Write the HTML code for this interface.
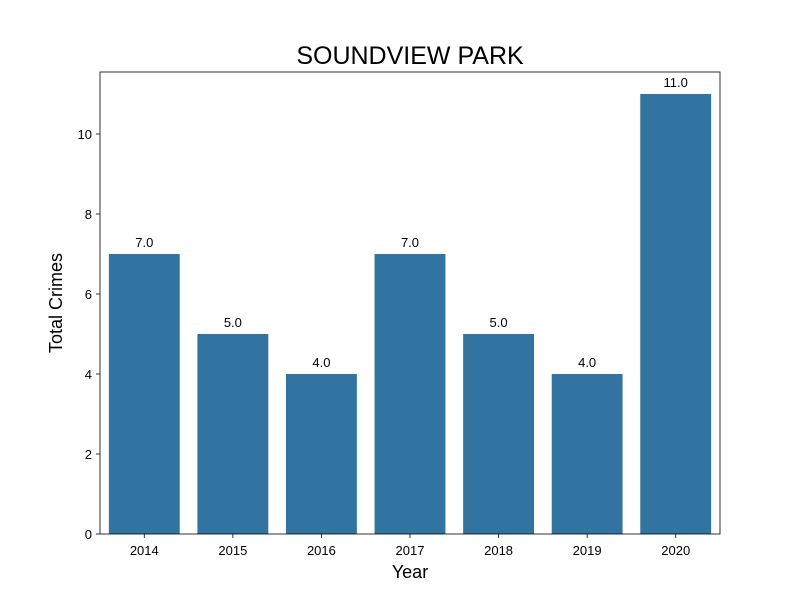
<!DOCTYPE html>
<html><head><meta charset="utf-8"><style>body{margin:0;background:#fff}svg{display:block;font-family:"Liberation Sans","DejaVu Sans",sans-serif}</style></head>
<body>
<svg id="chart" width="800" height="600"></svg>
<script>
const categories = ["2014","2015","2016","2017","2018","2019","2020"];
const values = [7, 5, 4, 7, 5, 4, 11];
const yTicks = [0, 2, 4, 6, 8, 10];
const L=100,R=720,T=72,B=534;
const yMax = Math.max(...values)*1.05;
const y = v => B - v/yMax*(B-T);
const step = (R-L)/categories.length;
const x = i => L + (i+0.5)*step;
const svg = document.getElementById('chart');
const NS='http://www.w3.org/2000/svg';
function mk(tag, attrs, text){const e=document.createElementNS(NS,tag);for(const k in attrs)e.setAttribute(k,attrs[k]);if(text!==undefined)e.textContent=text;svg.appendChild(e);return e;}
values.forEach((v,i)=>{
  const r=mk('rect',{x:x(i)-0.4*step,y:y(v),width:0.8*step,height:B-y(v),fill:'#3274a1'});
  
  
  const t=mk('text',{x:x(i),y:y(v)-7,'text-anchor':'middle','font-size':13,fill:'#000'},v.toFixed(1));
  
  
  const tk=mk('line',{x1:x(i),x2:x(i),y1:B,y2:B+4,stroke:'#000','stroke-width':0.8});
  
  
  const tl=mk('text',{x:x(i),y:B+21,'text-anchor':'middle','font-size':13},categories[i]);
  
  
});
yTicks.forEach(v=>{
  const tk=mk('line',{x1:L-4,x2:L,y1:y(v),y2:y(v),stroke:'#000','stroke-width':0.8});
  
  
  const tl=mk('text',{x:L-8,y:y(v)+5,'text-anchor':'end','font-size':13},String(v));
  
  
});
const f=mk('rect',{x:L,y:T,width:R-L,height:B-T,fill:'none',stroke:'#000','stroke-width':0.8});


const ti=mk('text',{x:(L+R)/2,y:64,'text-anchor':'middle','font-size':25},'SOUNDVIEW PARK');


const xt=mk('text',{x:(L+R)/2,y:578,'text-anchor':'middle','font-size':18},'Year');


const yt=mk('text',{x:62,y:(T+B)/2,'text-anchor':'middle','font-size':18,transform:'rotate(-90 62 '+((T+B)/2)+')'},'Total Crimes');


</script>
</body></html>
